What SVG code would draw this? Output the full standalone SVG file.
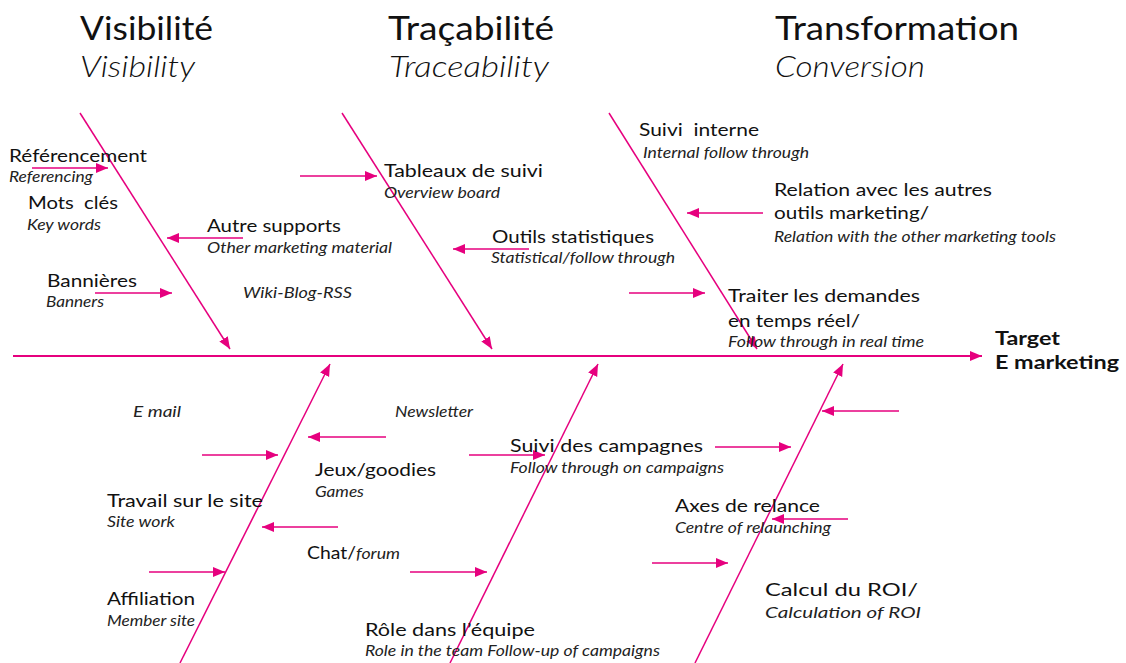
<svg xmlns="http://www.w3.org/2000/svg" width="1126" height="663" viewBox="0 0 1126 663">
<style>
.t{font-family:Lato,"Noto Sans","Liberation Sans",sans-serif;fill:#111}
.m{font-size:18px}
.i{font-size:16px;font-style:italic;fill:#222}
.h{font-size:33px}
.hi{font-size:30px;font-style:italic;font-weight:300;fill:#111}
.b{font-size:18px;font-weight:bold}
.pre{white-space:pre}
.ln{stroke:#E6007E;stroke-width:1.5;fill:none}
.sp{stroke:#E6007E;stroke-width:2;fill:none}
</style>
<defs>
<marker id="ah" markerUnits="userSpaceOnUse" markerWidth="13" markerHeight="11" refX="12" refY="5" orient="auto">
<path d="M0,0 L12,5 L0,10 z" fill="#E6007E"/>
</marker>
</defs>
<rect width="1126" height="663" fill="#fff"/>
<g id="connectors">
<line class="sp" x1="13" y1="356" x2="982" y2="356" marker-end="url(#ah)"/>
<line class="ln" x1="80" y1="113" x2="230" y2="349" marker-end="url(#ah)"/>
<line class="ln" x1="342" y1="113" x2="492" y2="349" marker-end="url(#ah)"/>
<line class="ln" x1="609" y1="113" x2="757" y2="349" marker-end="url(#ah)"/>
<line class="ln" x1="180" y1="663" x2="330" y2="364" marker-end="url(#ah)"/>
<line class="ln" x1="450" y1="663" x2="598" y2="364" marker-end="url(#ah)"/>
<line class="ln" x1="695" y1="663" x2="843" y2="364" marker-end="url(#ah)"/>
<line class="ln" x1="32" y1="168" x2="108" y2="168" marker-end="url(#ah)"/>
<line class="ln" x1="243" y1="238" x2="167" y2="238" marker-end="url(#ah)"/>
<line class="ln" x1="95" y1="293" x2="172" y2="293" marker-end="url(#ah)"/>
<line class="ln" x1="300" y1="176" x2="377" y2="176" marker-end="url(#ah)"/>
<line class="ln" x1="529" y1="249" x2="453" y2="249" marker-end="url(#ah)"/>
<line class="ln" x1="629" y1="293" x2="705" y2="293" marker-end="url(#ah)"/>
<line class="ln" x1="763" y1="213" x2="687" y2="213" marker-end="url(#ah)"/>
<line class="ln" x1="386" y1="437" x2="308" y2="437" marker-end="url(#ah)"/>
<line class="ln" x1="202" y1="455" x2="278" y2="455" marker-end="url(#ah)"/>
<line class="ln" x1="338" y1="527" x2="262" y2="527" marker-end="url(#ah)"/>
<line class="ln" x1="149" y1="572" x2="225" y2="572" marker-end="url(#ah)"/>
<line class="ln" x1="410" y1="572" x2="487" y2="572" marker-end="url(#ah)"/>
<line class="ln" x1="469" y1="455" x2="545" y2="455" marker-end="url(#ah)"/>
<line class="ln" x1="715" y1="447" x2="791" y2="447" marker-end="url(#ah)"/>
<line class="ln" x1="899" y1="411" x2="822" y2="411" marker-end="url(#ah)"/>
<line class="ln" x1="848" y1="519" x2="772" y2="519" marker-end="url(#ah)"/>
<line class="ln" x1="652" y1="563" x2="728" y2="563" marker-end="url(#ah)"/>
</g>
<g id="title-visibilite">
<text class="t h" x="80" y="40" textLength="133" lengthAdjust="spacingAndGlyphs">Visibilité</text>
<text class="t hi" x="80" y="77" textLength="115" lengthAdjust="spacingAndGlyphs">Visibility</text>
</g>
<g id="title-tracabilite">
<text class="t h" x="388" y="40" textLength="166" lengthAdjust="spacingAndGlyphs">Traçabilité</text>
<text class="t hi" x="389" y="77" textLength="160" lengthAdjust="spacingAndGlyphs">Traceability</text>
</g>
<g id="title-transformation">
<text class="t h" x="775" y="40" textLength="244" lengthAdjust="spacingAndGlyphs">Transformation</text>
<text class="t hi" x="775" y="77" textLength="150" lengthAdjust="spacingAndGlyphs">Conversion</text>
</g>
<g id="node-referencement">
<text class="t m" x="9" y="162" textLength="138" lengthAdjust="spacingAndGlyphs">Référencement</text>
<text class="t i" x="9" y="182" textLength="84" lengthAdjust="spacingAndGlyphs">Referencing</text>
</g>
<g id="node-mots-cles">
<text class="t m pre" x="28" y="209" textLength="90" lengthAdjust="spacingAndGlyphs">Mots  clés</text>
<text class="t i" x="27" y="230" textLength="74" lengthAdjust="spacingAndGlyphs">Key words</text>
</g>
<g id="node-bannieres">
<text class="t m" x="47" y="287" textLength="90" lengthAdjust="spacingAndGlyphs">Bannières</text>
<text class="t i" x="46" y="307" textLength="58" lengthAdjust="spacingAndGlyphs">Banners</text>
</g>
<g id="node-autre-supports">
<text class="t m" x="207" y="232" textLength="134" lengthAdjust="spacingAndGlyphs">Autre supports</text>
<text class="t i" x="207" y="253" textLength="185" lengthAdjust="spacingAndGlyphs">Other marketing material</text>
</g>
<g id="node-wiki">
<text class="t i" x="243" y="298" textLength="109" lengthAdjust="spacingAndGlyphs">Wiki-Blog-RSS</text>
</g>
<g id="node-tableaux">
<text class="t m" x="384" y="177" textLength="159" lengthAdjust="spacingAndGlyphs">Tableaux de suivi</text>
<text class="t i" x="384" y="198" textLength="116" lengthAdjust="spacingAndGlyphs">Overview board</text>
</g>
<g id="node-outils">
<text class="t m" x="492" y="243" textLength="162" lengthAdjust="spacingAndGlyphs">Outils statistiques</text>
<text class="t i" x="491" y="263" textLength="184" lengthAdjust="spacingAndGlyphs">Statistical/follow through</text>
</g>
<g id="node-suivi-interne">
<text class="t m pre" x="639" y="136" textLength="120" lengthAdjust="spacingAndGlyphs">Suivi  interne</text>
<text class="t i" x="643" y="158" textLength="166" lengthAdjust="spacingAndGlyphs">Internal follow through</text>
</g>
<g id="node-relation">
<text class="t m" x="774" y="196" textLength="218" lengthAdjust="spacingAndGlyphs">Relation avec les autres</text>
<text class="t m" x="774" y="219" textLength="155" lengthAdjust="spacingAndGlyphs">outils marketing/</text>
<text class="t i" x="774" y="242" textLength="282" lengthAdjust="spacingAndGlyphs">Relation with the other marketing tools</text>
</g>
<g id="node-traiter">
<text class="t m" x="728" y="302" textLength="192" lengthAdjust="spacingAndGlyphs">Traiter les demandes</text>
<text class="t m" x="728" y="327" textLength="132" lengthAdjust="spacingAndGlyphs">en temps réel/</text>
<text class="t i" x="728" y="347" textLength="196" lengthAdjust="spacingAndGlyphs">Follow through in real time</text>
</g>
<g id="node-target">
<text class="t b" x="995" y="345" textLength="65" lengthAdjust="spacingAndGlyphs">Target</text>
<text class="t b" x="995" y="369" textLength="124" lengthAdjust="spacingAndGlyphs">E marketing</text>
</g>
<g id="node-email">
<text class="t i" x="133" y="417" textLength="48" lengthAdjust="spacingAndGlyphs">E mail</text>
</g>
<g id="node-newsletter">
<text class="t i" x="395" y="417" textLength="78" lengthAdjust="spacingAndGlyphs">Newsletter</text>
</g>
<g id="node-jeux">
<text class="t m" x="315" y="476" textLength="121" lengthAdjust="spacingAndGlyphs">Jeux/goodies</text>
<text class="t i" x="315" y="497" textLength="49" lengthAdjust="spacingAndGlyphs">Games</text>
</g>
<g id="node-travail">
<text class="t m" x="107" y="507" textLength="156" lengthAdjust="spacingAndGlyphs">Travail sur le site</text>
<text class="t i" x="107" y="527" textLength="68" lengthAdjust="spacingAndGlyphs">Site work</text>
</g>
<g id="node-chat">
<text class="t m" x="307" y="559"><tspan textLength="49" lengthAdjust="spacingAndGlyphs">Chat/</tspan><tspan class="i" textLength="44" lengthAdjust="spacingAndGlyphs">forum</tspan></text>
</g>
<g id="node-affiliation">
<text class="t m" x="107" y="605" textLength="88" lengthAdjust="spacingAndGlyphs">Affiliation</text>
<text class="t i" x="107" y="626" textLength="88" lengthAdjust="spacingAndGlyphs">Member site</text>
</g>
<g id="node-role">
<text class="t m" x="365" y="636" textLength="170" lengthAdjust="spacingAndGlyphs">Rôle dans l’équipe</text>
<text class="t i" x="365" y="656" textLength="295" lengthAdjust="spacingAndGlyphs">Role in the team Follow-up of campaigns</text>
</g>
<g id="node-suivi-campagnes">
<text class="t m" x="510" y="452" textLength="193" lengthAdjust="spacingAndGlyphs">Suivi des campagnes</text>
<text class="t i" x="510" y="473" textLength="214" lengthAdjust="spacingAndGlyphs">Follow through on campaigns</text>
</g>
<g id="node-axes">
<text class="t m" x="675" y="512" textLength="145" lengthAdjust="spacingAndGlyphs">Axes de relance</text>
<text class="t i" x="675" y="533" textLength="156" lengthAdjust="spacingAndGlyphs">Centre of relaunching</text>
</g>
<g id="node-roi">
<text class="t m" x="765" y="596" textLength="153" lengthAdjust="spacingAndGlyphs">Calcul du ROI/</text>
<text class="t i" x="765" y="618" textLength="156" lengthAdjust="spacingAndGlyphs">Calculation of ROI</text>
</g>
</svg>
